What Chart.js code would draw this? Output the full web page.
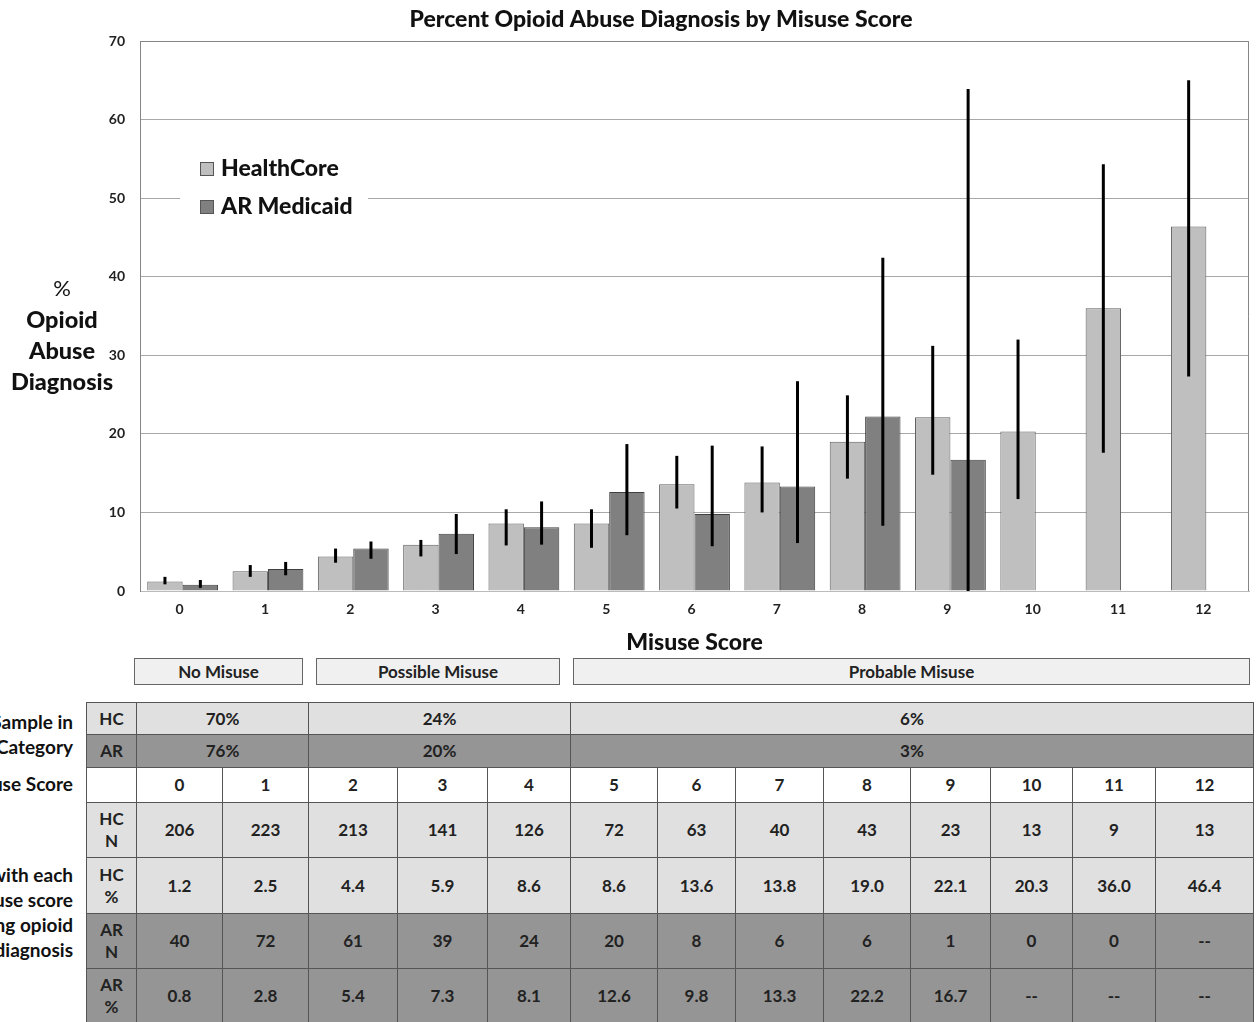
<!DOCTYPE html>
<html>
<head>
<meta charset="utf-8">
<script src="https://cdn.jsdelivr.net/npm/chart.js@4"></script>
<style>
html,body{margin:0;padding:0;background:#fff;}
body{width:1258px;height:1022px;overflow:hidden;position:relative;font-family:Lato,"Open Sans",sans-serif;}
#wrap{position:absolute;left:0;top:0;width:1258px;height:660px;}
.grp{position:absolute;top:658px;height:27px;box-sizing:border-box;border:1px solid #666;background:#f0f0f0;font:bold 17px Lato,sans-serif;color:#222;text-align:center;line-height:25px;}
#tbl{position:absolute;left:86px;top:702px;border-collapse:collapse;table-layout:fixed;}
#tbl td{border:1px solid #555;text-align:center;font:bold 17px Lato,sans-serif;color:#222;padding:0;line-height:22px;overflow:hidden;}
#tbl tr.lt td{background:#e0e0e0;}
#tbl tr.dk td{background:#959595;}
#tbl tr.wt td{background:#fff;}
.side{position:absolute;left:-227px;width:300px;text-align:right;font:bold 19px Lato,sans-serif;color:#111;line-height:25px;white-space:nowrap;}
</style>
</head>
<body>
<div id="wrap"><canvas id="c" width="1258" height="660"></canvas></div>
<div id="groups"></div>
<table id="tbl"></table>
<div class="side" style="top:709px;">Percent of Sample in<br>Each Category</div>
<div class="side" style="top:771px;">Misuse Score</div>
<div class="side" style="top:862px;">Percent with each<br>misuse score<br>having opioid<br>abuse diagnosis</div>
<script>
// ---- data ----
const categories = ['0','1','2','3','4','5','6','7','8','9','10','11','12'];
const hcValues = [1.2, 2.5, 4.4, 5.9, 8.6, 8.6, 13.6, 13.8, 19.0, 22.1, 20.3, 36.0, 46.4];
const arValues = [0.8, 2.8, 5.4, 7.3, 8.1, 12.6, 9.8, 13.3, 22.2, 16.7, null, null, null];
const hcLow  = [0.85, 1.8, 3.6, 4.4, 5.8, 5.5, 10.5, 10.0, 14.3, 14.8, 11.7, 17.6, 27.3];
const hcHigh = [1.8, 3.3, 5.4, 6.5, 10.4, 10.4, 17.2, 18.4, 24.9, 31.2, 32.0, 54.3, 65.0];
const arLow  = [0.4, 2.0, 4.1, 4.7, 5.9, 7.1, 5.7, 6.1, 8.3, 0, null, null, null];
const arHigh = [1.4, 3.7, 6.3, 9.8, 11.4, 18.7, 18.5, 26.7, 42.4, 63.9, null, null, null];
const hcN = [206, 223, 213, 141, 126, 72, 63, 40, 43, 23, 13, 9, 13];
const arN = [40, 72, 61, 39, 24, 20, 8, 6, 6, 1, 0, 0, null];
const groupNames = ['No Misuse', 'Possible Misuse', 'Probable Misuse'];
const groupSpans = [2, 3, 8];
const hcSample = ['70%', '24%', '6%'];
const arSample = ['76%', '20%', '3%'];
const seriesNames = ['HealthCore', 'AR Medicaid'];

// ---- layout (not data) ----
const groupBoxes = [[134, 303], [316, 560], [573, 1250]];
const colWidths = [86, 86, 89, 90, 83, 87, 78, 88, 87, 80, 82, 83, 98];
const rowHeights = [32, 33, 35, 55, 56, 55, 55];

// group boxes
const gdiv = document.getElementById('groups');
groupNames.forEach((g, i) => {
  const d = document.createElement('div');
  d.className = 'grp';
  d.style.left = groupBoxes[i][0] + 'px';
  d.style.width = (groupBoxes[i][1] - groupBoxes[i][0]) + 'px';
  d.textContent = g;
  gdiv.appendChild(d);
});

// table
const tbl = document.getElementById('tbl');
let html = '<colgroup><col style="width:50px">' + colWidths.map(w => '<col style="width:' + w + 'px">').join('') + '</colgroup>';
function row(cls, h, head, cells) {
  return '<tr class="' + cls + '" style="height:' + h + 'px"><td>' + head + '</td>' + cells + '</tr>';
}
html += row('lt', rowHeights[0], 'HC', hcSample.map((s, i) => '<td colspan="' + groupSpans[i] + '">' + s + '</td>').join(''));
html += row('dk', rowHeights[1], 'AR', arSample.map((s, i) => '<td colspan="' + groupSpans[i] + '">' + s + '</td>').join(''));
html += row('wt', rowHeights[2], '', categories.map(c => '<td>' + c + '</td>').join(''));
html += row('lt', rowHeights[3], 'HC<br>N', hcN.map(v => '<td>' + (v === null ? '--' : v) + '</td>').join(''));
html += row('lt', rowHeights[4], 'HC<br>%', hcValues.map(v => '<td>' + (v === null ? '--' : v.toFixed(1)) + '</td>').join(''));
html += row('dk', rowHeights[5], 'AR<br>N', arN.map(v => '<td>' + (v === null ? '--' : v) + '</td>').join(''));
html += row('dk', rowHeights[6], 'AR<br>%', arValues.map(v => '<td>' + (v === null ? '--' : v.toFixed(1)) + '</td>').join(''));
tbl.innerHTML = html;

// ---- plugins ----
const framePlugin = {
  id: 'frame',
  beforeDatasetsDraw(chart) {
    const {ctx, chartArea: a} = chart;
    ctx.save();
    ctx.strokeStyle = '#858585';
    ctx.lineWidth = 1;
    ctx.beginPath();
    ctx.moveTo(a.left + 0.5, a.bottom);
    ctx.lineTo(a.left + 0.5, a.top + 0.5);
    ctx.lineTo(a.right - 0.5, a.top + 0.5);
    ctx.lineTo(a.right - 0.5, a.bottom);
    ctx.stroke();
    ctx.restore();
  }
};
const errorBarPlugin = {
  id: 'errbars',
  afterDatasetsDraw(chart) {
    const {ctx} = chart;
    const ys = chart.scales.y;
    ctx.save();
    ctx.strokeStyle = '#000';
    ctx.lineWidth = 3;
    chart.data.datasets.forEach((ds, d) => {
      const meta = chart.getDatasetMeta(d);
      meta.data.forEach((el, i) => {
        const lo = ds.errLow[i], hi = ds.errHigh[i];
        if (lo === null || hi === null || ds.data[i] === null) return;
        ctx.beginPath();
        ctx.moveTo(el.x, ys.getPixelForValue(lo));
        ctx.lineTo(el.x, ys.getPixelForValue(hi));
        ctx.stroke();
      });
    });
    ctx.restore();
  }
};
const legendPlugin = {
  id: 'customLegend',
  afterDatasetsDraw(chart) {
    const {ctx} = chart;
    ctx.save();
    ctx.fillStyle = '#fff';
    ctx.fillRect(180, 150, 188, 76);
    chart.data.datasets.forEach((ds, i) => {
      const y = 162 + i * 38;
      ctx.fillStyle = ds.backgroundColor;
      ctx.fillRect(200, y, 14, 14);
      ctx.strokeStyle = '#555';
      ctx.lineWidth = 1;
      ctx.strokeRect(200.5, y + 0.5, 13, 13);
      ctx.fillStyle = '#111';
      ctx.font = '900 23px Lato, sans-serif';
      ctx.textBaseline = 'middle';
      ctx.textAlign = 'left';
      ctx.fillText(ds.label, 221, y + 7);
    });
    ctx.restore();
  }
};
const yTitlePlugin = {
  id: 'yTitle',
  afterDraw(chart) {
    const {ctx} = chart;
    ctx.save();
    ctx.fillStyle = '#111';
    ctx.textAlign = 'center';
    ctx.textBaseline = 'middle';
    ctx.font = '22px Lato, sans-serif';
    ctx.fillText('%', 62, 289);
    ctx.font = '900 23.5px Lato, sans-serif';
    ctx.fillText('Opioid', 62, 320);
    ctx.fillText('Abuse', 62, 351);
    ctx.fillText('Diagnosis', 62, 382);
    ctx.restore();
  }
};

new Chart(document.getElementById('c'), {
  type: 'bar',
  data: {
    labels: categories,
    datasets: [
      {label: seriesNames[0], data: hcValues, errLow: hcLow, errHigh: hcHigh,
       backgroundColor: '#bfbfbf', borderColor: '#5f5f5f', borderWidth: 1,
       barPercentage: 1, categoryPercentage: 0.83},
      {label: seriesNames[1], data: arValues, errLow: arLow, errHigh: arHigh,
       backgroundColor: '#808080', borderColor: '#404040', borderWidth: 1,
       barPercentage: 1, categoryPercentage: 0.83}
    ]
  },
  options: {
    responsive: false,
    animation: false,
    layout: {padding: {left: 73, right: 9, top: 0, bottom: 0}},
    plugins: {
      legend: {display: false},
      tooltip: {enabled: false},
      title: {
        display: true,
        text: 'Percent Opioid Abuse Diagnosis by Misuse Score',
        color: '#111',
        font: {family: 'Lato, sans-serif', size: 23, weight: '900', lineHeight: 1.2},
        padding: {top: 6, bottom: 7.4}
      }
    },
    scales: {
      x: {
        grid: {display: false, drawTicks: false},
        border: {color: '#bbbbbb'},
        ticks: {color: '#222', padding: 10, labelOffset: -3, font: {family: 'Lato, sans-serif', size: 14, weight: 'bold'}},
        title: {
          display: true, text: 'Misuse Score', color: '#111',
          font: {family: 'Lato, sans-serif', size: 23, weight: '900', lineHeight: 1.2},
          padding: {top: 8, bottom: 4}
        },
        afterFit(s) { s.height = 69; }
      },
      y: {
        min: 0, max: 70,
        grid: {color: '#a8a8a8', drawTicks: false},
        border: {color: '#858585'},
        ticks: {stepSize: 10, color: '#222', padding: 15, font: {family: 'Lato, sans-serif', size: 14, weight: 'bold'}},
        afterFit(s) { s.width = 67; }
      }
    }
  },
  plugins: [framePlugin, legendPlugin, errorBarPlugin, yTitlePlugin]
});
</script>
</body>
</html>
